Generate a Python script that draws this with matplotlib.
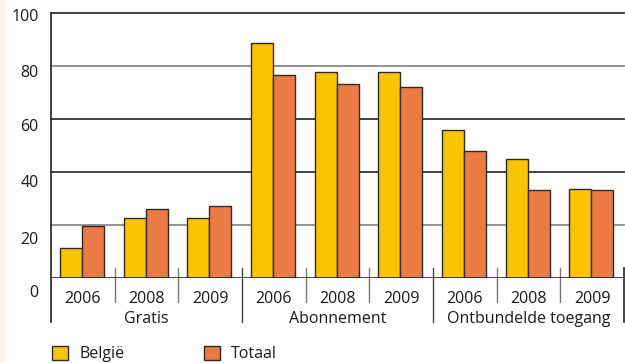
import matplotlib.pyplot as plt
from matplotlib.patches import Patch

plt.rcParams['font.family'] = ['Open Sans', 'DejaVu Sans']

years = ['2006', '2008', '2009', '2006', '2008', '2009', '2006', '2008', '2009']
groups = ['Gratis', 'Abonnement', 'Ontbundelde toegang']
belgie = [11.4, 22.5, 22.5, 88.8, 77.8, 77.8, 55.7, 44.8, 33.5]
totaal = [19.6, 25.9, 27.3, 76.6, 73.1, 72.1, 47.8, 33.1, 33.1]
ytick_labels = ['0', '20', '40', '60', '80', '100']

yellow = '#fbc400'
orange = '#ec7a45'
edge = '#2b2b2b'
txtc = '#1a1a1a'

fig = plt.figure(figsize=(6.25, 3.63), dpi=100)
fig.patch.set_facecolor('white')
# cream strip on the left edge
fig.add_artist(plt.Rectangle((0, 0), 4 / 625, 1, transform=fig.transFigure,
                             color='#fef5e4', zorder=0))

ax = fig.add_axes([51 / 625, 85 / 363, 573 / 625, 265 / 363])
ax.set_xticks([])
ax.set_yticks([])
ax.set_xlim(0, 9)
ax.set_ylim(0, 100)
for s in ax.spines.values():
    s.set_visible(False)

# gridlines (20 and 80 print lighter in the original)
grid_cols = {20: '#8a8a8a', 40: '#333333', 60: '#333333', 80: '#8a8a8a', 100: '#333333'}
for v, c in grid_cols.items():
    ax.axhline(v, color=c, lw=1.3, zorder=1, clip_on=False)
ax.axhline(0, color='#222222', lw=1.2, zorder=3)

w = 0.345
x = range(len(years))
ax.bar([i + 0.314 for i in x], belgie, w, color=yellow, edgecolor=edge, lw=1, zorder=2)
ax.bar([i + 0.659 for i in x], totaal, w, color=orange, edgecolor=edge, lw=1, zorder=2)

# y labels sit a bit off the gridlines in the original, so place them by hand
ytr = ax.get_yaxis_transform()
label_y = [-5.5, 14.5, 35.7, 56.9, 77.3, 98.6]
for yv, lab in zip(label_y, ytick_labels):
    ax.text(-0.0215, yv, lab, transform=ytr, ha='right', va='center',
            fontsize=11.5, color=txtc, clip_on=False)

tr = ax.get_xaxis_transform()
# left axis line and right end line
ax.plot([0, 0], [1, -0.166], transform=tr, color='#222222', lw=1.2, clip_on=False)
ax.plot([9, 9], [0.038, -0.166], transform=tr, color='#222222', lw=1.2, clip_on=False)
# separators between years and between groups
for i in range(1, 9):
    if i % 3 == 0:
        ax.plot([i, i], [0.038, -0.166], transform=tr, color='#444444', lw=1, clip_on=False)
    else:
        ax.plot([i, i], [0.038, -0.091], transform=tr, color='#777777', lw=1, clip_on=False)

for i, yl in enumerate(years):
    ax.text(i + 0.5, -0.079, yl, transform=tr, ha='center', va='center',
            fontsize=11.5, color=txtc)
for g, name in enumerate(groups):
    ax.text(g * 3 + 1.5, -0.156, name, transform=tr, ha='center', va='center',
            fontsize=11.5, color=txtc)

handles = [Patch(facecolor=yellow, edgecolor=edge, lw=1),
           Patch(facecolor=orange, edgecolor=edge, lw=1)]
fig.legend(handles, ['België', 'Totaal'], loc='center left',
           bbox_to_anchor=(37.6 / 625, 1 - 354.1 / 363), ncol=2, frameon=False,
           fontsize=11.5, handlelength=1.0, handleheight=1.0,
           handletextpad=0.7, columnspacing=5.0, labelcolor=txtc)

fig.savefig('out.png', dpi=100)
